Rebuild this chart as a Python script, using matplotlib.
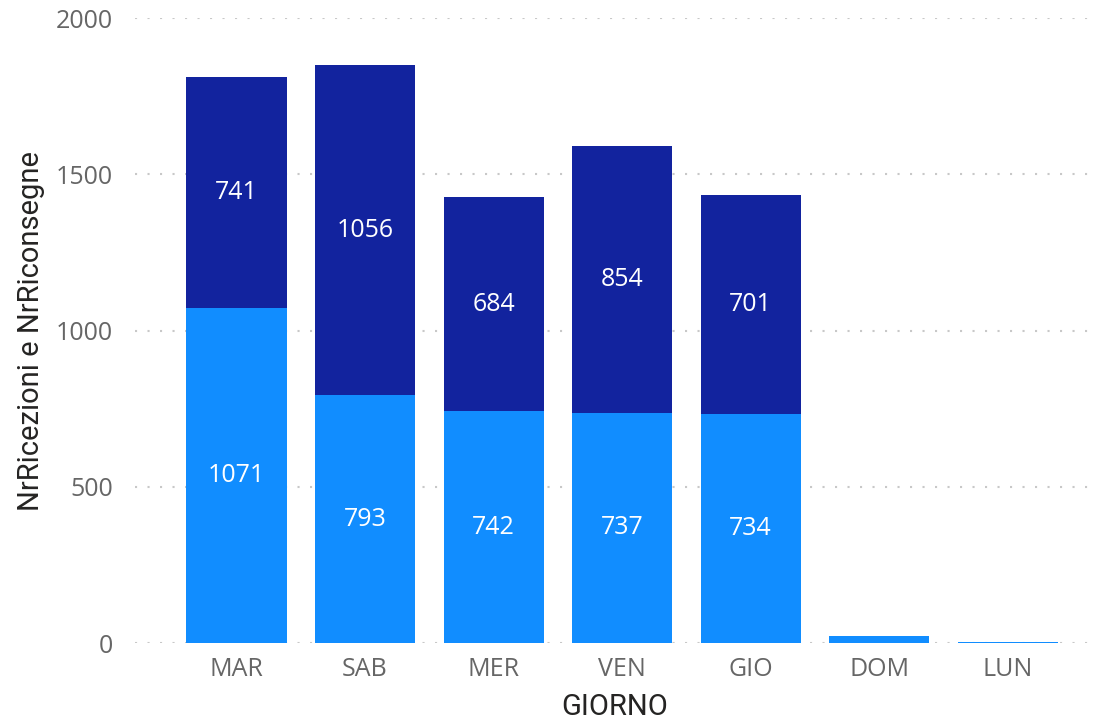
import numpy as np
import matplotlib
matplotlib.use("Agg")
import matplotlib.pyplot as plt

# dati
giorni = ["MAR", "SAB", "MER", "VEN", "GIO", "DOM", "LUN"]
nr_ricezioni = [1071, 793, 742, 737, 734, 23, 3]
nr_riconsegne = [741, 1056, 684, 854, 701, 0, 0]

COL_LIGHT = "#118DFF"
COL_DARK = "#12239E"

plt.rcParams["font.family"] = ["Open Sans", "DejaVu Sans"]

fig = plt.figure(figsize=(11.04, 7.22), dpi=100)
ax = fig.add_axes([0.1223, 0.1094, 0.8697, 0.8656])

x = np.arange(len(giorni))
w = 0.78
b1 = ax.bar(x, nr_ricezioni, width=w, color=COL_LIGHT, zorder=2)
b2 = ax.bar(x, nr_riconsegne, width=w, bottom=nr_ricezioni, color=COL_DARK, zorder=2)

# etichette dati al centro dei segmenti (solo se il segmento è abbastanza alto)
for bars, vals, bottoms in ((b1, nr_ricezioni, [0] * len(x)),
                            (b2, nr_riconsegne, nr_ricezioni)):
    for xi, v, b in zip(x, vals, bottoms):
        if v < 100:
            continue
        ax.text(xi, b + v / 2, f"{v}", ha="center", va="center",
                color="white", fontsize=18, zorder=3)

ax.set_xlim(-0.79, 6.68)
ax.set_ylim(0, 2000)
ax.set_yticks([0, 500, 1000, 1500, 2000])
ax.set_xticks(x)
ax.set_xticklabels(giorni)
ax.tick_params(axis="both", length=0, labelsize=18, labelcolor="#666666")
ax.tick_params(axis="y", pad=16)
ax.tick_params(axis="x", pad=10)

ax.yaxis.grid(True, color="#C8C8C8", linestyle=(0, (1, 5)), linewidth=1.5, zorder=0)
for s in ax.spines.values():
    s.set_visible(False)

ax.set_xlabel("GIORNO", fontsize=21, color="#252423", family=["Roboto", "DejaVu Sans"],
              labelpad=8)
ax.set_ylabel("NrRicezioni e NrRiconsegne", fontsize=21, color="#252423",
              family=["Roboto", "DejaVu Sans"], labelpad=8)

fig.savefig("out.png", dpi=100)
